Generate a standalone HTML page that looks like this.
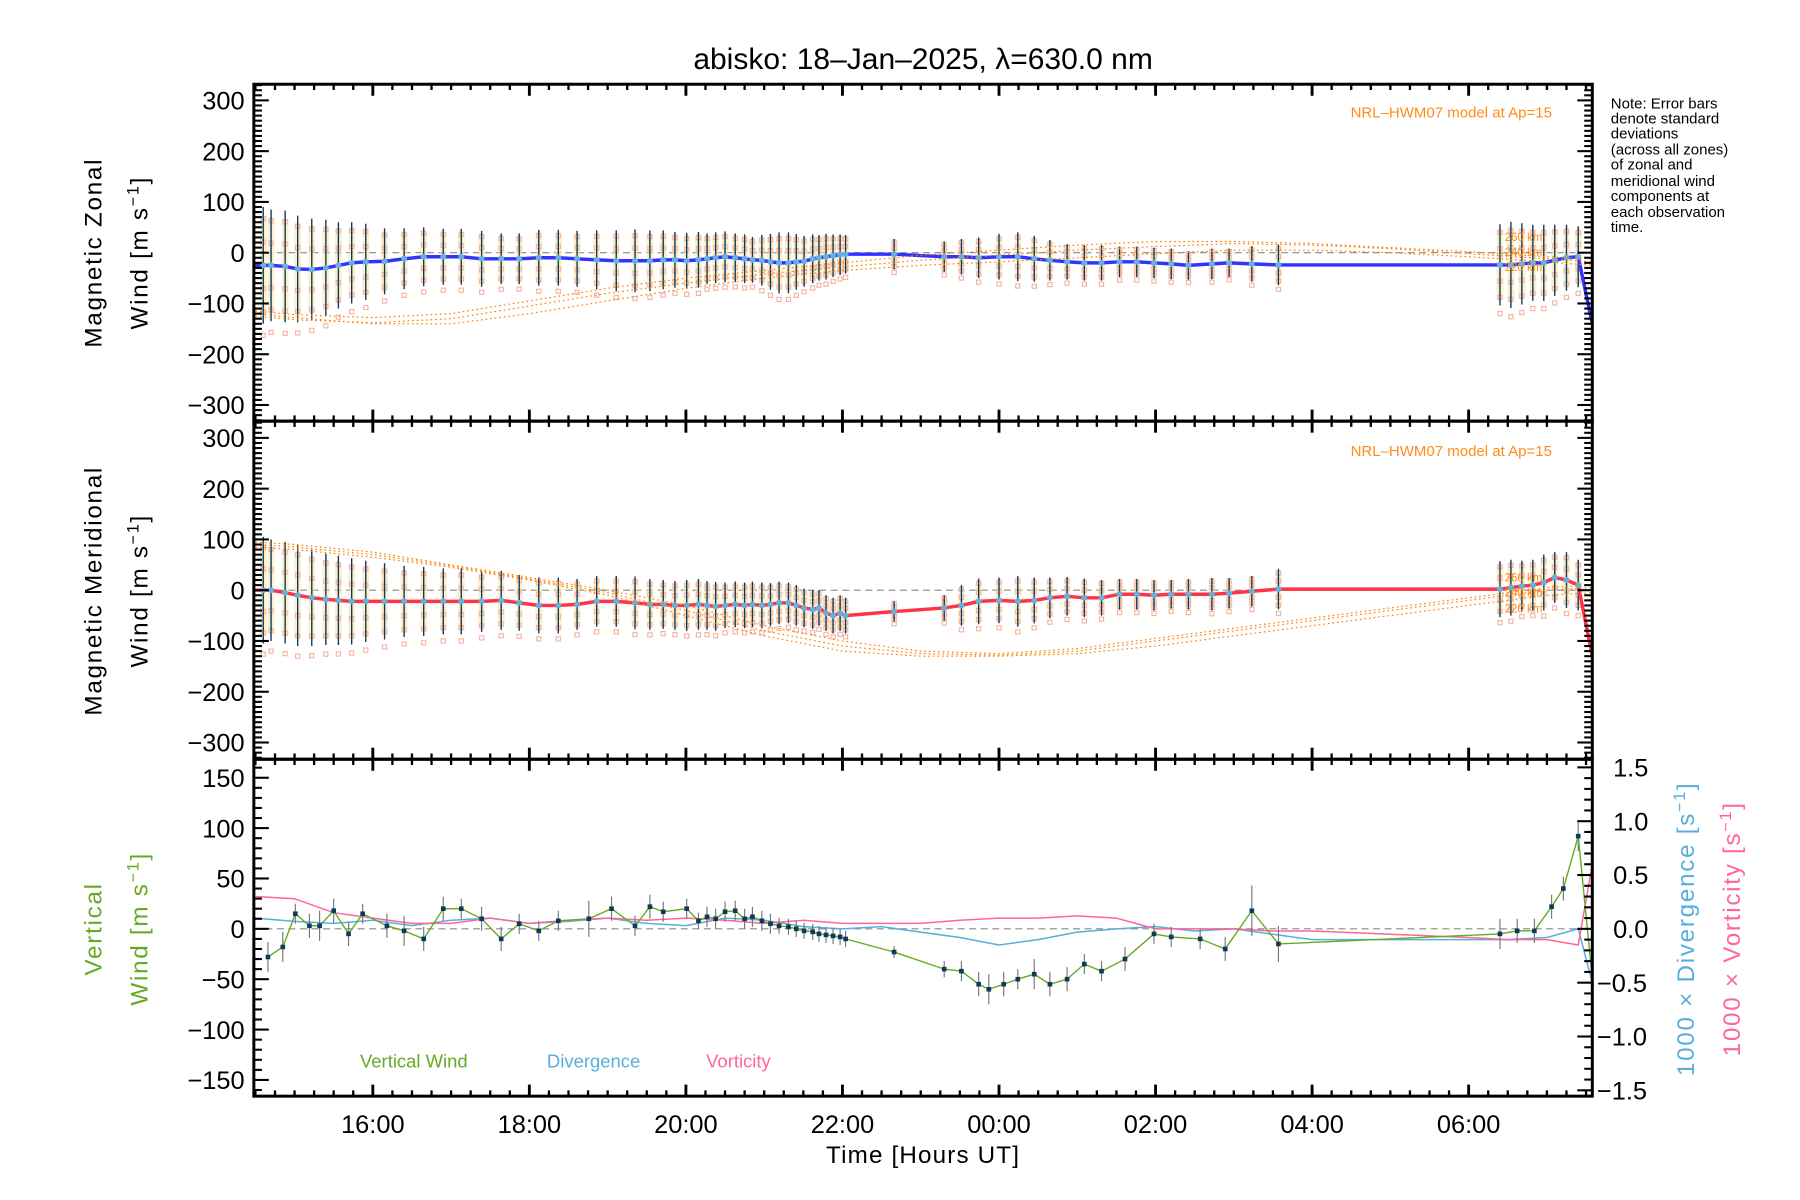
<!DOCTYPE html>
<html><head><meta charset="utf-8"><title>abisko winds</title>
<style>
html,body{margin:0;padding:0;background:#fff;}
svg{display:block;font-family:"Liberation Sans",sans-serif;}
</style></head>
<body>
<svg id="chart" width="1800" height="1200" viewBox="0 0 1560 1040" xmlns="http://www.w3.org/2000/svg">
<rect x="0" y="0" width="1560" height="1040" fill="#fff"/>
<text x="800" y="60" font-size="26" text-anchor="middle">abisko: 18–Jan–2025, λ=630.0 nm</text>
<g id="layer"></g>
<text font-size="21" letter-spacing="1.5" text-anchor="middle" transform="translate(88,219) rotate(-90)">Magnetic Zonal</text>
<text font-size="21" letter-spacing="1.5" text-anchor="middle" transform="translate(128,219) rotate(-90)">Wind [m s<tspan baseline-shift="super" font-size="14">−1</tspan>]</text>
<text font-size="21" letter-spacing="1.5" text-anchor="middle" transform="translate(88,512) rotate(-90)">Magnetic Meridional</text>
<text font-size="21" letter-spacing="1.5" text-anchor="middle" transform="translate(128,512) rotate(-90)">Wind [m s<tspan baseline-shift="super" font-size="14">−1</tspan>]</text>
<text font-size="21" letter-spacing="1.5" fill="#66aa22" text-anchor="middle" transform="translate(88,805) rotate(-90)">Vertical</text>
<text font-size="21" letter-spacing="1.5" fill="#66aa22" text-anchor="middle" transform="translate(128,805) rotate(-90)">Wind [m s<tspan baseline-shift="super" font-size="14">−1</tspan>]</text>
<text font-size="21" letter-spacing="1.5" fill="#5aaedc" text-anchor="middle" transform="translate(1468,805) rotate(-90)">1000 × Divergence [s<tspan baseline-shift="super" font-size="14">−1</tspan>]</text>
<text font-size="21" letter-spacing="1.5" fill="#ff6699" text-anchor="middle" transform="translate(1508,805) rotate(-90)">1000 × Vorticity [s<tspan baseline-shift="super" font-size="14">−1</tspan>]</text>
<text x="800" y="1008" font-size="21" letter-spacing="1" text-anchor="middle">Time [Hours UT]</text>
<g font-size="13">
<text x="1396" y="94">Note: Error bars</text><text x="1396" y="107">denote standard</text><text x="1396" y="120">deviations</text><text x="1396" y="134">(across all zones)</text><text x="1396" y="147">of zonal and</text><text x="1396" y="161">meridional wind</text><text x="1396" y="174">components at</text><text x="1396" y="188">each observation</text><text x="1396" y="201">time.</text>
</g>
<text x="1345" y="102" font-size="13" fill="#ff8c1a" text-anchor="end">NRL–HWM07 model at Ap=15</text>
<text x="1345" y="395" font-size="13" fill="#ff8c1a" text-anchor="end">NRL–HWM07 model at Ap=15</text>
<g font-size="10" fill="#ff8c1a"><text x="1304" y="209">260 km</text><text x="1304" y="222">240 km</text><text x="1304" y="235">220 km</text></g>
<g font-size="10" fill="#ff8c1a"><text x="1304" y="504">260 km</text><text x="1304" y="517">240 km</text><text x="1304" y="531">220 km</text></g>
<text x="312" y="925" font-size="16" fill="#66aa22">Vertical Wind</text>
<text x="474" y="925" font-size="16" fill="#5aaedc">Divergence</text>
<text x="612" y="925" font-size="16" fill="#ff6699">Vorticity</text>
</svg>
<script>
const obsTimes=[14.60,14.70,14.88,15.04,15.22,15.40,15.56,15.73,15.91,16.15,16.40,16.65,16.90,17.13,17.39,17.64,17.87,18.12,18.37,18.61,18.86,19.11,19.35,19.54,19.71,19.86,20.01,20.16,20.27,20.38,20.50,20.63,20.75,20.85,20.97,21.08,21.19,21.31,21.41,21.51,21.62,21.70,21.79,21.88,21.97,22.04,22.66,23.30,23.52,23.74,24.00,24.24,24.45,24.65,24.87,25.09,25.31,25.54,25.76,25.98,26.20,26.42,26.72,26.94,27.23,27.57,30.40,30.54,30.68,30.82,30.96,31.10,31.25,31.40];
const zonalWind=[-25,-25,-27,-32,-33,-30,-25,-20,-18,-17,-12,-8,-8,-8,-12,-12,-12,-10,-10,-12,-14,-16,-16,-16,-14,-14,-16,-14,-12,-10,-8,-10,-12,-14,-15,-18,-20,-20,-18,-17,-12,-10,-8,-6,-4,-3,-3,-8,-8,-10,-8,-8,-12,-15,-18,-20,-20,-18,-18,-20,-22,-25,-22,-20,-22,-24,-24,-24,-22,-20,-20,-15,-10,-8];
const zonalSd=[115,110,110,105,100,95,85,80,75,65,60,58,55,55,55,50,50,55,55,55,58,60,62,60,58,55,55,55,50,50,50,48,48,45,50,55,60,60,55,50,48,45,45,42,40,38,30,30,35,40,45,48,45,40,35,35,35,30,30,30,30,28,30,28,35,40,80,85,80,75,75,70,65,60];
const meridWind=[0,0,-5,-10,-15,-18,-20,-22,-22,-22,-22,-22,-22,-22,-22,-20,-25,-30,-30,-28,-22,-22,-25,-28,-28,-30,-30,-28,-30,-32,-30,-28,-30,-28,-30,-28,-25,-25,-30,-35,-38,-35,-45,-50,-45,-50,-42,-35,-30,-22,-20,-22,-20,-15,-12,-15,-15,-8,-8,-10,-8,-8,-8,-6,-2,2,2,5,8,10,15,25,20,10];
const meridSd=[105,100,100,100,95,90,88,85,80,75,70,68,65,65,60,58,55,55,55,50,50,50,52,50,48,48,50,50,48,48,45,45,45,45,45,42,42,40,40,38,38,35,35,35,35,35,20,25,40,45,45,50,45,40,38,38,35,30,30,30,28,30,32,30,30,40,55,55,50,50,55,50,55,50];
const tailTime=31.58, zonalTail=-140, meridTail=-130;
const modelTimes=[14.5,15,16,17,18,19,20,21,22,23,24,25,26,27,28,29,30,31,31.58];
const zonal260=[-115,-122,-128,-120,-95,-70,-50,-35,-20,-5,5,15,22,22,18,10,2,-8,-12];
const zonal240=[-125,-132,-138,-130,-105,-80,-60,-42,-28,-15,-5,5,12,18,15,8,-2,-12,-18];
const zonal220=[-120,-128,-140,-140,-120,-95,-70,-50,-35,-25,-18,-10,-2,5,5,0,-8,-18,-25];
const merid260=[95,90,75,50,25,0,-30,-70,-100,-120,-125,-115,-95,-75,-55,-35,-15,5,10];
const merid240=[90,85,70,48,22,-5,-40,-80,-110,-125,-128,-120,-100,-80,-60,-40,-20,0,5];
const merid220=[85,80,65,45,20,-10,-50,-90,-120,-130,-130,-125,-110,-90,-70,-50,-30,-10,-5];
const vertTimes=[14.66,14.85,15.01,15.19,15.32,15.50,15.69,15.87,16.18,16.40,16.65,16.90,17.13,17.39,17.64,17.87,18.12,18.37,18.76,19.05,19.35,19.54,19.71,20.01,20.16,20.27,20.38,20.50,20.63,20.75,20.85,20.97,21.08,21.19,21.31,21.41,21.51,21.62,21.70,21.79,21.88,21.97,22.04,22.66,23.30,23.52,23.74,23.87,24.06,24.24,24.45,24.65,24.87,25.09,25.31,25.61,25.98,26.20,26.57,26.89,27.23,27.57,30.40,30.62,30.84,31.06,31.21,31.40];
const vertWind=[-28,-18,15,3,3,18,-5,15,3,-2,-10,20,20,10,-10,5,-2,8,10,20,3,22,17,20,8,12,10,17,18,10,12,8,5,3,2,0,-2,-3,-5,-6,-7,-8,-10,-23,-40,-42,-55,-60,-55,-50,-45,-55,-50,-35,-42,-30,-5,-8,-10,-20,18,-15,-5,-2,-2,22,40,92];
const vertSd=[15,15,10,12,15,12,12,10,12,15,12,12,10,12,12,10,10,10,18,12,10,12,10,10,8,10,10,10,10,10,10,10,10,8,8,8,8,8,8,8,8,8,8,6,8,10,12,15,12,10,15,12,12,10,10,12,10,10,10,12,25,18,15,12,12,12,12,15];
const vertTail=-50;
const curlTimes=[14.5,15,15.5,16,16.5,17,17.5,18,18.5,19,19.5,20,20.5,21,21.5,22,22.5,23,23.5,24,24.5,25,25.5,26,26.5,27,27.5,28,29,30,30.5,31,31.4,31.58];
const divergence=[0.1,0.07,0.05,0.08,0.03,0.08,0.1,0.05,0.07,0.1,0.05,0.03,0.1,0.08,0.02,0.0,0.02,-0.03,-0.08,-0.15,-0.1,-0.03,0.0,0.02,-0.02,0.0,-0.05,-0.1,-0.1,-0.1,-0.1,-0.08,0.0,-0.5];
const vorticity=[0.3,0.28,0.15,0.1,0.05,0.05,0.1,0.05,0.08,0.1,0.08,0.1,0.08,0.05,0.08,0.05,0.05,0.05,0.08,0.1,0.1,0.12,0.1,0.0,0.0,0.0,-0.02,-0.02,-0.05,-0.08,-0.1,-0.1,-0.15,0.6];
const xTickHours=[16,18,20,22,24,26,28,30];
const xTickLabels=["16:00","18:00","20:00","22:00","00:00","02:00","04:00","06:00"];
const windTicks=[-300,-200,-100,0,100,200,300];
const windTickLabels=["−300","−200","−100","0","100","200","300"];
const vertTicks=[-150,-100,-50,0,50,100,150];
const vertTickLabels=["−150","−100","−50","0","50","100","150"];
const curlTicks=[-1.5,-1.0,-0.5,0.0,0.5,1.0,1.5];
const curlTickLabels=["−1.5","−1.0","−0.5","0.0","0.5","1.0","1.5"];

const NS="http://www.w3.org/2000/svg";
const layer=document.getElementById('layer');
const L=220,R=1380,T0=14.48,T1=31.58;
const P=[{top:73,bot:365,c:219,k:0.44},{top:365,bot:658,c:511.5,k:0.44},{top:658,bot:950,c:805,k:0.873}];
function X(t){return L+(t-T0)/(T1-T0)*(R-L);}
function Y1(v){return P[0].c-v*P[0].k;}
function Y2(v){return P[1].c-v*P[1].k;}
function Y3(v){return P[2].c-v*P[2].k;}
function Y3r(v){return 805-v*93.3;}
function mk(tag,attrs,parent){const e=document.createElementNS(NS,tag);for(const k in attrs)e.setAttribute(k,attrs[k]);(parent||layer).appendChild(e);return e;}
function poly(ts,vs,yf,attrs,name){const pts=ts.map((t,i)=>X(t).toFixed(1)+','+yf(vs[i]).toFixed(1)).join(' ');const e=mk('polyline',Object.assign({points:pts,fill:'none'},attrs));
return e;}

const clip=mk('clipPath',{id:'cp'});mk('rect',{x:L,y:73,width:R-L,height:877},clip);
const g=mk('g',{'clip-path':'url(#cp)'});



[Y1(0),Y2(0),Y3(0)].forEach((y,i)=>{const e=mk('line',{x1:L,x2:R,y1:y,y2:y,stroke:'#888','stroke-width':1,'stroke-dasharray':'6,4'},g);

});

function windPanel(vals,sds,yf,models,tail,lineColor,name){
  const off=[-1.2,-0.8,-0.4,0.4,0.8];
  obsTimes.forEach((t,i)=>{
    const x=X(t),v=vals[i],s=sds[i];
    const b=mk('rect',{x:x-3,y:yf(v+0.85*s),width:6,height:yf(v-0.85*s)-yf(v+0.85*s),fill:'#f7e4a8',opacity:0.55},g);
    
    
    off.forEach(o=>{const q=mk('rect',{x:x-1.8,y:yf(v+o*s)-1.8,width:3.6,height:3.6,fill:'none',stroke:'#f8b4a0','stroke-width':1},g);
      
      });
  });
  models.forEach((m,j)=>{poly(modelTimes,m,yf,{stroke:'#ff8000','stroke-width':1,'stroke-dasharray':'1.5,2.5'},name+'-model-'+['260','240','220'][j]);});
  obsTimes.forEach((t,i)=>{const e=mk('line',{x1:X(t),x2:X(t),y1:yf(vals[i]+sds[i]),y2:yf(vals[i]-sds[i]),stroke:'#0b3a5a','stroke-width':1.2},g);
    
    });
  const lt=obsTimes.slice();lt.unshift(T0);lt.push(tailTime);
  const lv=vals.slice();lv.unshift(vals[0]);lv.push(tail);
  const pl=poly(lt,lv,yf,{stroke:lineColor,'stroke-width':3},name+'-wind-line');g.appendChild(pl);
  obsTimes.forEach((t,i)=>{const c=mk('circle',{cx:X(t),cy:yf(vals[i]),r:2.6,fill:'#66b0e0'},g);
    
    });
}
windPanel(zonalWind,zonalSd,Y1,[zonal260,zonal240,zonal220],zonalTail,'#3333ff','zonal');
windPanel(meridWind,meridSd,Y2,[merid260,merid240,merid220],meridTail,'#ff3344','meridional');

g.appendChild(poly(curlTimes,divergence,Y3r,{stroke:'#5aaedc','stroke-width':1.3},'divergence-line'));
g.appendChild(poly(curlTimes,vorticity,Y3r,{stroke:'#ff6699','stroke-width':1.3},'vorticity-line'));
vertTimes.forEach((t,i)=>{const e=mk('line',{x1:X(t),x2:X(t),y1:Y3(vertWind[i]+vertSd[i]),y2:Y3(vertWind[i]-vertSd[i]),stroke:'#777','stroke-width':1},g);
  
  });
{const vt=vertTimes.slice();vt.push(tailTime);const vv=vertWind.slice();vv.push(vertTail);
 g.appendChild(poly(vt,vv,Y3,{stroke:'#66aa22','stroke-width':1.2},'vertical-wind-line'));}
vertTimes.forEach((t,i)=>{const e=mk('rect',{x:X(t)-2,y:Y3(vertWind[i])-2,width:4,height:4,fill:'#0b3a5a'},g);
  
  });

const ax=mk('g',{stroke:'#000',fill:'none'});


function ln(x1,y1,x2,y2,w){mk('line',{x1,y1,x2,y2,'stroke-width':w},ax);}
P.forEach(p=>{
  for(let h=14.5;h<=31.5001;h+=0.25){const x=X(h);const maj=xTickHours.some(m=>Math.abs(m-h)<1e-6);const len=maj?10:5;
    ln(x,p.top,x,p.top+len,maj?2.5:2);ln(x,p.bot,x,p.bot-len,maj?2.5:2);}
});
[0,1].forEach(i=>{const yf=i?Y2:Y1;
  for(let v=-330;v<=330;v+=10){const y=yf(v);const maj=v%100===0;const len=maj?13:7;ln(L,y,L+len,y,1.8);ln(R,y,R-len,y,1.8);}
});
for(let v=-160;v<=160;v+=10){const y=Y3(v);const len=(v%50===0)?13:7;ln(L,y,L+len,y,1.8);}
for(let v=-1.5;v<=1.5001;v+=0.1){const y=Y3r(v);const maj=Math.abs(Math.round(v*10)%5)===0;ln(R,y,R-(maj?13:7),y,1.8);}
P.forEach(p=>{mk('rect',{x:L,y:p.top,width:R-L,height:p.bot-p.top,'stroke-width':2.6},ax);});

const tx=mk('g',{'font-size':22,fill:'#000'});


function lab(x,y,s,anchor,name){const e=mk('text',{x,y,'text-anchor':anchor},tx);e.textContent=s;
  
  }
xTickHours.forEach((h,i)=>lab(X(h),982,xTickLabels[i],'middle','x-tick-label'));
windTicks.forEach((v,i)=>{lab(212,Y1(v)+8,windTickLabels[i],'end','zonal-y-tick-label');lab(212,Y2(v)+8,windTickLabels[i],'end','meridional-y-tick-label');});
vertTicks.forEach((v,i)=>lab(212,Y3(v)+8,vertTickLabels[i],'end','vertical-y-tick-label'));
curlTicks.forEach((v,i)=>lab(v<0?1384:1398,Y3r(v)+8,curlTickLabels[i],'start','curl-y-tick-label'));
</script>
</body></html>
